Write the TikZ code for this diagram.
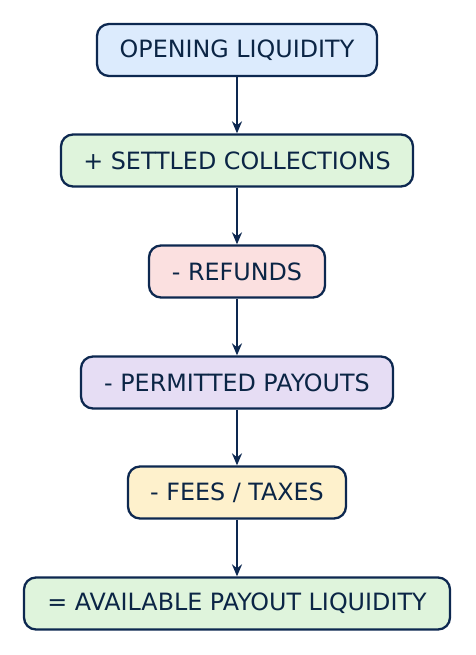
\documentclass[tikz,border=0pt]{standalone}
\usepackage{fontspec}
\setmainfont{DejaVu Sans}
\usetikzlibrary{arrows.meta}
\definecolor{navy}{HTML}{0D2850}
\definecolor{txt}{HTML}{0B2545}
\definecolor{fblue}{HTML}{DCEBFD}
\definecolor{fgreen}{HTML}{DFF4DC}
\definecolor{fpink}{HTML}{FBE0E0}
\definecolor{flav}{HTML}{E6DDF4}
\definecolor{fyel}{HTML}{FEF1CC}
\begin{document}
\begin{tikzpicture}[x=1pt,y=-1pt,
  box/.style={draw=navy, line width=2.3pt, rounded corners=12pt, text=txt,
    font=\fontsize{23.8}{28}\selectfont, inner sep=0pt, anchor=center},
  arr/.style={draw=navy, line width=2.3pt, -{Stealth[length=12pt,width=10pt]}}]
\useasboundingbox (0,0) rectangle (475,655);
\node[box, fill=fblue, minimum width=280pt, minimum height=52pt] (n1) at (237,50) {OPENING LIQUIDITY};
\node[box, fill=fgreen, minimum width=352pt, minimum height=52pt] (n2) at (237,160.5) {+ SETTLED COLLECTIONS};
\node[box, fill=fpink, minimum width=176pt, minimum height=52pt] (n3) at (237,271.5) {- REFUNDS};
\node[box, fill=flav, minimum width=312pt, minimum height=52pt] (n4) at (237,382.5) {- PERMITTED PAYOUTS};
\node[box, fill=fyel, minimum width=218pt, minimum height=52pt] (n5) at (237,492.5) {- FEES / TAXES};
\node[box, fill=fgreen, minimum width=426pt, minimum height=52pt] (n6) at (237,603.5) {= AVAILABLE PAYOUT LIQUIDITY};
\draw[arr] (n1) -- (n2);
\draw[arr] (n2) -- (n3);
\draw[arr] (n3) -- (n4);
\draw[arr] (n4) -- (n5);
\draw[arr] (n5) -- (n6);
\end{tikzpicture}
\end{document}
